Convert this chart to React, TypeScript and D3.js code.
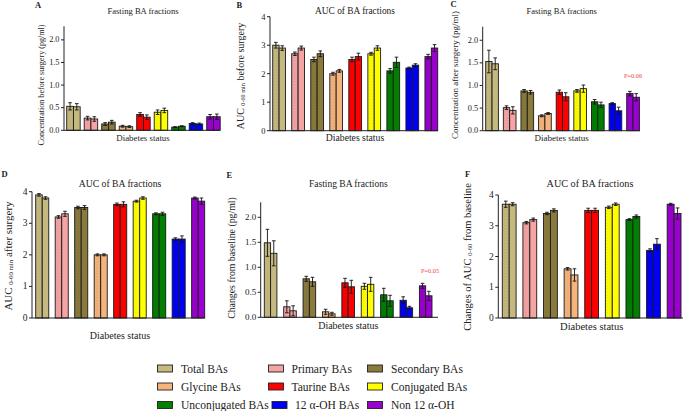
import React from 'react';
import * as d3 from 'd3';

// bile acid fractions, in drawing order
const categories = ['Total BAs', 'Primary BAs', 'Secondary BAs', 'Glycine BAs', 'Taurine BAs', 'Conjugated BAs', 'Unconjugated BAs', '12 α-OH BAs', 'Non 12 α-OH'];
const colors = ['#C6B97F', '#F5A3A3', '#8A7A3B', '#F4B47C', '#FF0000', '#FFFF00', '#007F00', '#0000F5', '#9A00CF'];

// A: fasting, before surgery (pg/ml)
const aDotted = [0.53, 0.27, 0.14, 0.09, 0.35, 0.40, 0.07, 0.15, 0.30];
const aSolid = [0.52, 0.25, 0.18, 0.08, 0.29, 0.44, 0.09, 0.14, 0.30];
const aDottedErr = [0.08, 0.04, 0.03, 0.02, 0.04, 0.05, 0.01, 0.02, 0.05];
const aSolidErr = [0.07, 0.05, 0.04, 0.02, 0.05, 0.05, 0.01, 0.02, 0.06];

// B: AUC before surgery
const bDotted = [3.0, 2.7, 2.5, 2.0, 2.5, 2.7, 2.1, 2.2, 2.6];
const bSolid = [2.9, 2.9, 2.7, 2.1, 2.6, 2.9, 2.4, 2.3, 2.9];
const bDottedErr = [0.1, 0.06, 0.08, 0.05, 0.08, 0.05, 0.08, 0.03, 0.08];
const bSolidErr = [0.08, 0.07, 0.1, 0.05, 0.12, 0.08, 0.18, 0.05, 0.12];

// C: fasting, after surgery (pg/ml)
const cDotted = [1.53, 0.51, 0.88, 0.33, 0.85, 0.88, 0.64, 0.60, 0.82];
const cSolid = [1.48, 0.45, 0.85, 0.38, 0.75, 0.93, 0.57, 0.44, 0.74];
const cDottedErr = [0.25, 0.04, 0.03, 0.02, 0.05, 0.03, 0.05, 0.02, 0.05];
const cSolidErr = [0.13, 0.08, 0.04, 0.02, 0.09, 0.08, 0.06, 0.08, 0.08];

// D: AUC after surgery
const dDotted = [3.9, 3.2, 3.5, 2.0, 3.6, 3.7, 3.3, 2.5, 3.8];
const dSolid = [3.8, 3.3, 3.5, 2.0, 3.6, 3.8, 3.3, 2.5, 3.7];
const dDottedErr = [0.04, 0.04, 0.04, 0.03, 0.04, 0.03, 0.03, 0.04, 0.03];
const dSolidErr = [0.04, 0.08, 0.06, 0.03, 0.08, 0.04, 0.05, 0.1, 0.1];

// E: fasting change from baseline (pg/ml)
const eDotted = [1.49, 0.21, 0.77, 0.11, 0.69, 0.62, 0.45, 0.34, 0.63];
const eSolid = [1.28, 0.13, 0.71, 0.07, 0.61, 0.66, 0.33, 0.19, 0.43];
const eDottedErr = [0.27, 0.12, 0.05, 0.05, 0.09, 0.06, 0.13, 0.07, 0.05];
const eSolidErr = [0.25, 0.10, 0.09, 0.03, 0.13, 0.14, 0.11, 0.03, 0.09];

// F: change of AUC from baseline
const fDotted = [3.7, 3.1, 3.4, 1.6, 3.5, 3.6, 3.2, 2.2, 3.7];
const fSolid = [3.7, 3.2, 3.5, 1.4, 3.5, 3.7, 3.3, 2.4, 3.4];
const fDottedErr = [0.1, 0.04, 0.04, 0.04, 0.07, 0.04, 0.03, 0.05, 0.03];
const fSolidErr = [0.05, 0.05, 0.05, 0.2, 0.07, 0.04, 0.05, 0.18, 0.18];

const concTicks = [0, 0.5, 1.0, 1.5, 2.0];
const aucTicks = [0, 1, 2, 3, 4];

const FONT = 'Liberation Serif, Times New Roman, serif';

type Panel = {
  letter: string; title: string;
  dotted: number[]; solid: number[]; dottedErr: number[]; solidErr: number[];
  max: number; ticks: number[]; fmt: string;
  x0: number; x1: number; barStart: number; barEnd: number; pad: number;
  yBottom: number; yTop: number;
  letterPos: [number, number]; titlePos: [number, number]; xLabelPos: [number, number];
  titleSize: number; xLabelSize: number; tickSize: number;
  yLabel: { x: number; y: number; size: number; pre: string; sub?: string; post?: string };
  pNote?: { text: string; x: number; y: number };
};

const panels: Panel[] = [
  {
    letter: 'A', title: 'Fasting BA fractions', dotted: aDotted, solid: aSolid, dottedErr: aDottedErr, solidErr: aSolidErr,
    max: 2.3, ticks: concTicks, fmt: '.1f', x0: 64, x1: 220, barStart: 66.7, barEnd: 220.2, pad: 0.23,
    yBottom: 130.3, yTop: 26.3, letterPos: [35, 7.5], titlePos: [143, 14], xLabelPos: [143, 141],
    titleSize: 8.6, xLabelSize: 8.9, tickSize: 8.3,
    yLabel: { x: 41, y: 85, size: 8.1, pre: 'Concentration  before surgery (pg/ml)' },
  },
  {
    letter: 'B', title: 'AUC of BA fractions', dotted: bDotted, solid: bSolid, dottedErr: bDottedErr, solidErr: bSolidErr,
    max: 4, ticks: aucTicks, fmt: 'd', x0: 270, x1: 438, barStart: 272.7, barEnd: 437.7, pad: 0.33,
    yBottom: 130.7, yTop: 16.7, letterPos: [236.5, 7.5], titlePos: [355, 14], xLabelPos: [355, 141],
    titleSize: 9.4, xLabelSize: 9.7, tickSize: 8.5,
    yLabel: { x: 240, y: 76, size: 10, pre: 'AUC ', sub: '0-60 min', post: ' before surgery' },
  },
  {
    letter: 'C', title: 'Fasting BA fractions', dotted: cDotted, solid: cSolid, dottedErr: cDottedErr, solidErr: cSolidErr,
    max: 2.3, ticks: concTicks, fmt: '.1f', x0: 482.7, x1: 640, barStart: 485.7, barEnd: 639.4, pad: 0.28,
    yBottom: 130.7, yTop: 26.7, letterPos: [450.5, 7], titlePos: [561.7, 14], xLabelPos: [561.7, 141],
    titleSize: 8.5, xLabelSize: 9, tickSize: 8.3,
    yLabel: { x: 454.5, y: 75, size: 9, pre: 'Concentration after surgery (pg/ml)' },
    pNote: { text: 'P=0.06', x: 633, y: 78 },
  },
  {
    letter: 'D', title: 'AUC of BA fractions', dotted: dDotted, solid: dSolid, dottedErr: dDottedErr, solidErr: dSolidErr,
    max: 4, ticks: aucTicks, fmt: 'd', x0: 32, x1: 204.7, barStart: 35.7, barEnd: 204.7, pad: 0.33,
    yBottom: 318, yTop: 191.7, letterPos: [1.5, 177], titlePos: [120, 187], xLabelPos: [120, 339],
    titleSize: 9.7, xLabelSize: 10, tickSize: 9.5,
    yLabel: { x: 8, y: 256, size: 11, pre: 'AUC ', sub: '0-60 min', post: ' after surgery' },
  },
  {
    letter: 'E', title: 'Fasting BA fractions', dotted: eDotted, solid: eSolid, dottedErr: eDottedErr, solidErr: eSolidErr,
    max: 2.3, ticks: concTicks, fmt: '.1f', x0: 260.7, x1: 438, barStart: 264.3, barEnd: 432, pad: 0.35,
    yBottom: 317.3, yTop: 202.3, letterPos: [226.5, 178], titlePos: [348.3, 187], xLabelPos: [348.3, 329],
    titleSize: 9.5, xLabelSize: 10, tickSize: 9,
    yLabel: { x: 231, y: 258, size: 9.8, pre: 'Changes from baseline (pg/ml)' },
    pNote: { text: 'P=0.05', x: 430, y: 273 },
  },
  {
    letter: 'F', title: 'AUC of BA fractions', dotted: fDotted, solid: fSolid, dottedErr: fDottedErr, solidErr: fSolidErr,
    max: 4, ticks: aucTicks, fmt: 'd', x0: 498.3, x1: 683, barStart: 502.3, barEnd: 681, pad: 0.33,
    yBottom: 318, yTop: 195, letterPos: [465, 177], titlePos: [590, 187], xLabelPos: [591.7, 330],
    titleSize: 10.2, xLabelSize: 10.5, tickSize: 9.5,
    yLabel: { x: 467, y: 257, size: 10.6, pre: 'Changes of AUC ', sub: '0-60', post: ' from baseline' },
  },
];

const legendRows = [
  [0, 1, 2],
  [3, 4, 5],
  [6, 7, 8],
];

function Bars({ p }: { p: Panel }) {
  const x = d3.scaleBand<number>().domain(d3.range(categories.length)).range([p.barStart, p.barEnd]).paddingInner(p.pad).paddingOuter(0);
  const y = d3.scaleLinear().domain([0, p.max]).range([p.yBottom, p.yTop]);
  const half = x.bandwidth() / 2;
  const fmt = d3.format(p.fmt);
  const cap = 1.8;
  const series = [
    { vals: p.dotted, errs: p.dottedErr, dotted: true, off: 0 },
    { vals: p.solid, errs: p.solidErr, dotted: false, off: half },
  ];
  return (
    <g fontFamily={FONT} fill="#222">
      <text x={p.letterPos[0]} y={p.letterPos[1]} fontSize={8.5} fontWeight="bold">{p.letter}</text>
      <text x={p.titlePos[0]} y={p.titlePos[1]} fontSize={p.titleSize} textAnchor="middle">{p.title}</text>
      <text x={p.xLabelPos[0]} y={p.xLabelPos[1]} fontSize={p.xLabelSize} textAnchor="middle">Diabetes status</text>
      <text transform={`translate(${p.yLabel.x},${p.yLabel.y}) rotate(-90)`} fontSize={p.yLabel.size} textAnchor="middle" dominantBaseline="central">
        {p.yLabel.pre}
        {p.yLabel.sub && <tspan fontSize={p.yLabel.size * 0.62} dy={1.5}>{p.yLabel.sub}</tspan>}
        {p.yLabel.post && <tspan dy={-1.5}>{p.yLabel.post}</tspan>}
      </text>
      {series.map((s, si) =>
        s.vals.map((v, i) => {
          const bx = (x(i) as number) + s.off;
          const top = y(v);
          return (
            <rect key={`${si}-${i}`} x={bx} y={top} width={half} height={p.yBottom - top}
              fill={s.dotted ? `url(#dots${i})` : colors[i]} stroke="#1a1a1a" strokeWidth={0.9} />
          );
        })
      )}
      {series.map((s, si) =>
        s.vals.map((v, i) => {
          const cx = (x(i) as number) + s.off + half / 2;
          const hi = y(v + s.errs[i]);
          const lo = y(v - s.errs[i]);
          return (
            <g key={`e${si}-${i}`} stroke="#111" strokeWidth={0.9}>
              <line x1={cx} x2={cx} y1={hi} y2={lo} />
              <line x1={cx - cap} x2={cx + cap} y1={hi} y2={hi} />
              <line x1={cx - cap} x2={cx + cap} y1={lo} y2={lo} />
            </g>
          );
        })
      )}
      <g stroke="#222" strokeWidth={1}>
        <line x1={p.x0} x2={p.x0} y1={p.yBottom} y2={p.yTop} />
        <line x1={p.x0} x2={p.x1} y1={p.yBottom} y2={p.yBottom} />
        {p.ticks.map(t => (
          <line key={t} x1={p.x0 - 3} x2={p.x0} y1={y(t)} y2={y(t)} />
        ))}
      </g>
      {p.ticks.map(t => (
        <text key={`t${t}`} x={p.x0 - 4.5} y={y(t)} fontSize={p.tickSize} textAnchor="end" dominantBaseline="central">{fmt(t)}</text>
      ))}
      {p.pNote && (
        <text x={p.pNote.x} y={p.pNote.y} fontSize={6.3} textAnchor="middle" fill="#E8474A">{p.pNote.text}</text>
      )}
    </g>
  );
}

export default function App() {
  const colX = [157.5, 268.5, 367.5];
  const textX = [181, 291.5, 391];
  const rowY = [368.5, 386.5, 405];
  return (
    <svg width={685} height={411} style={{ position: 'absolute', left: 0, top: 0, background: '#fff' }}>
      <defs>
        {colors.map((c, i) => (
          <pattern key={i} id={`dots${i}`} patternUnits="userSpaceOnUse" width={3} height={3}>
            <rect width={3} height={3} fill={c} />
            <rect x={0.5} y={0.5} width={0.8} height={0.8} fill="#000" opacity={0.28} />
            <rect x={2} y={2} width={0.6} height={0.6} fill="#000" opacity={0.15} />
          </pattern>
        ))}
      </defs>
      {panels.map(p => <Bars key={p.letter} p={p} />)}
      <g fontFamily={FONT} fontSize={11.5} fill="#222">
        {legendRows.map((row, r) =>
          row.map((ci, c) => (
            <g key={ci}>
              <rect x={colX[c] + (r === 2 && c === 1 ? 3.5 : 0)} y={rowY[r] - 3.5} width={15} height={7} fill={colors[ci]} stroke="#222" strokeWidth={0.9} />
              <text x={textX[c] + (r === 2 && c === 1 ? 3.5 : 0)} y={rowY[r]} dominantBaseline="central">{categories[ci]}</text>
            </g>
          ))
        )}
      </g>
    </svg>
  );
}
